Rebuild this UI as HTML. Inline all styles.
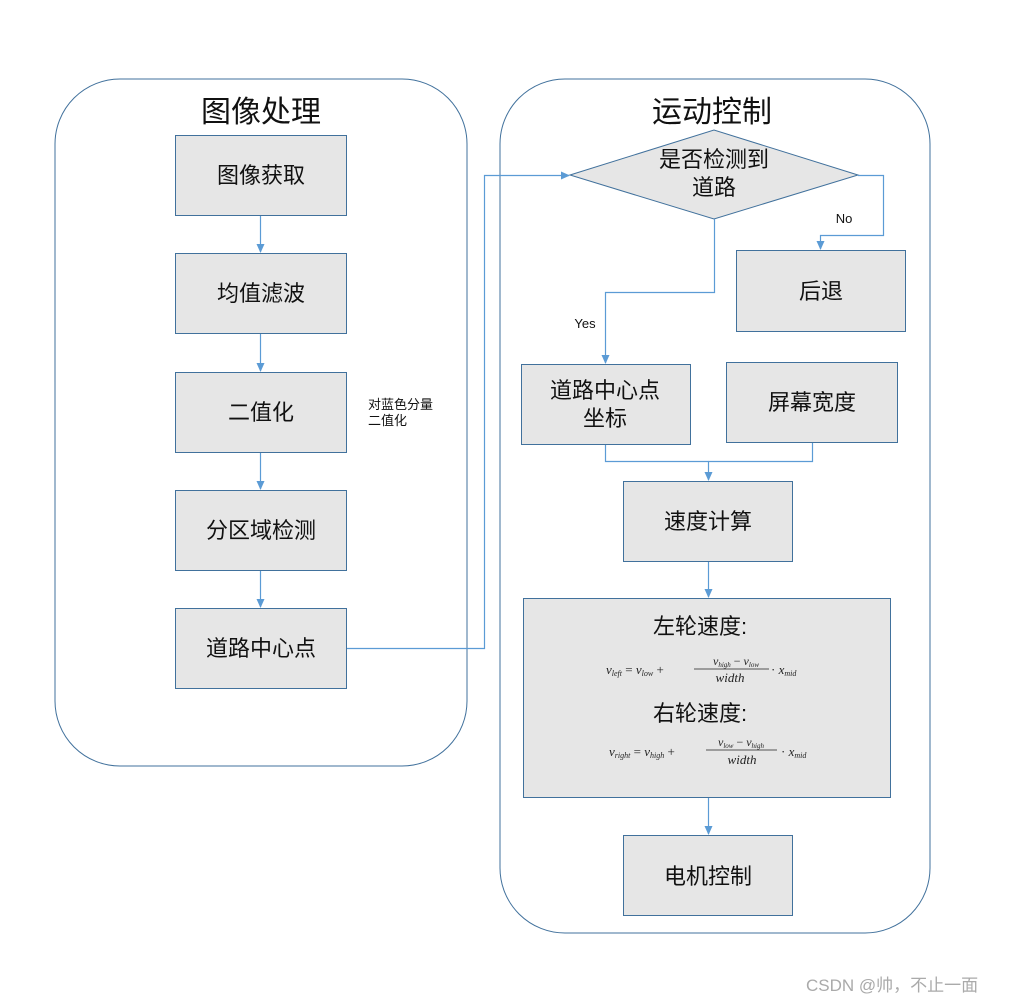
<!DOCTYPE html>
<html><head><meta charset="utf-8"><style>
html,body{margin:0;padding:0;background:#fff;}
svg{display:block;}
text{font-family:"Liberation Sans","Noto Sans CJK SC",sans-serif;fill:#111;}
.m{font-family:"Liberation Serif","DejaVu Serif",serif;font-style:italic;fill:#222;}
</style></head><body>
<svg width="1012" height="1003" viewBox="0 0 1012 1003" xmlns="http://www.w3.org/2000/svg">
<defs><marker id="a" markerWidth="10" markerHeight="10" refX="8" refY="5" orient="auto" markerUnits="userSpaceOnUse"><path d="M0,1 L9,5 L0,9 Z" fill="#5B9BD5"/></marker></defs>
<rect x="55" y="79" width="412" height="687" rx="65" fill="none" stroke="#41719C" stroke-width="1"/>
<rect x="500" y="79" width="430" height="854" rx="65" fill="none" stroke="#41719C" stroke-width="1"/>
<text x="261" y="122" font-size="30" text-anchor="middle">图像处理</text>
<text x="712" y="122" font-size="30" text-anchor="middle">运动控制</text>
<g fill="#E6E6E6" stroke="#41719C" stroke-width="1">
<rect x="175.5" y="135.5" width="171" height="80"/>
<rect x="175.5" y="253.5" width="171" height="80"/>
<rect x="175.5" y="372.5" width="171" height="80"/>
<rect x="175.5" y="490.5" width="171" height="80"/>
<rect x="175.5" y="608.5" width="171" height="80"/>
<polygon points="570,175 714,130 858,175 714,219"/>
<rect x="736.5" y="250.5" width="169" height="81"/>
<rect x="521.5" y="364.5" width="169" height="80"/>
<rect x="726.5" y="362.5" width="171" height="80"/>
<rect x="623.5" y="481.5" width="169" height="80"/>
<rect x="523.5" y="598.5" width="367" height="199"/>
<rect x="623.5" y="835.5" width="169" height="80"/>
</g>
<g fill="none" stroke="#5B9BD5" stroke-width="1.2">
<line x1="260.5" y1="216" x2="260.5" y2="252" marker-end="url(#a)"/>
<line x1="260.5" y1="334" x2="260.5" y2="371" marker-end="url(#a)"/>
<line x1="260.5" y1="453" x2="260.5" y2="489" marker-end="url(#a)"/>
<line x1="260.5" y1="571" x2="260.5" y2="607" marker-end="url(#a)"/>
<polyline points="347,648.5 484.5,648.5 484.5,175.5 569,175.5" marker-end="url(#a)"/>
<polyline points="858,175.5 883.5,175.5 883.5,235.5 820.5,235.5 820.5,249" marker-end="url(#a)"/>
<polyline points="714.5,219 714.5,292.5 605.5,292.5 605.5,363" marker-end="url(#a)"/>
<polyline points="605.5,445 605.5,461.5 708.5,461.5"/>
<polyline points="812.5,443 812.5,461.5 708.5,461.5 708.5,480" marker-end="url(#a)"/>
<line x1="708.5" y1="562" x2="708.5" y2="597" marker-end="url(#a)"/>
<line x1="708.5" y1="798" x2="708.5" y2="834" marker-end="url(#a)"/>
</g>
<g font-size="22" text-anchor="middle">
<text x="261" y="183">图像获取</text>
<text x="261" y="301">均值滤波</text>
<text x="261" y="420">二值化</text>
<text x="261" y="538">分区域检测</text>
<text x="261" y="656">道路中心点</text>
<text x="714" y="167">是否检测到</text>
<text x="714" y="195">道路</text>
<text x="821" y="299">后退</text>
<text x="605" y="398">道路中心点</text>
<text x="605" y="426">坐标</text>
<text x="812" y="410">屏幕宽度</text>
<text x="708" y="529">速度计算</text>
<text x="700" y="634">左轮速度:</text>
<text x="700" y="721">右轮速度:</text>
<text x="708" y="884">电机控制</text>
</g>
<text x="368" y="409" font-size="13">对蓝色分量</text>
<text x="368" y="425" font-size="13">二值化</text>
<text x="844" y="223" font-size="13" text-anchor="middle">No</text>
<text x="585" y="328" font-size="13" text-anchor="middle">Yes</text>
<g class="m">
<text x="606" y="674" font-size="13" class="m">v<tspan font-size="8" dy="2">left</tspan><tspan dy="-2" font-style="normal"> = </tspan>v<tspan font-size="8" dy="2">low</tspan><tspan dy="-2" font-style="normal"> +</tspan></text>
<text x="736" y="665" font-size="12" class="m" text-anchor="middle">v<tspan font-size="7" dy="2">high</tspan><tspan dy="-2" font-style="normal"> − </tspan>v<tspan font-size="7" dy="2">low</tspan></text>
<line x1="694" y1="669" x2="769" y2="669" stroke="#222" stroke-width="0.8"/>
<text x="730" y="682" font-size="13" class="m" text-anchor="middle">width</text>
<text x="771" y="674" font-size="13" class="m"><tspan font-style="normal">· </tspan>x<tspan font-size="8" dy="2">mid</tspan></text>
<text x="609" y="756" font-size="13" class="m">v<tspan font-size="8" dy="2">right</tspan><tspan dy="-2" font-style="normal"> = </tspan>v<tspan font-size="8" dy="2">high</tspan><tspan dy="-2" font-style="normal"> +</tspan></text>
<text x="741" y="746" font-size="12" class="m" text-anchor="middle">v<tspan font-size="7" dy="2">low</tspan><tspan dy="-2" font-style="normal"> − </tspan>v<tspan font-size="7" dy="2">high</tspan></text>
<line x1="706" y1="750" x2="777" y2="750" stroke="#222" stroke-width="0.8"/>
<text x="742" y="764" font-size="13" class="m" text-anchor="middle">width</text>
<text x="781" y="756" font-size="13" class="m"><tspan font-style="normal">· </tspan>x<tspan font-size="8" dy="2">mid</tspan></text>
</g>
<text x="806" y="991" font-size="17" style="fill:#aaa">CSDN @帅，不止一面</text>
</svg>
</body></html>
